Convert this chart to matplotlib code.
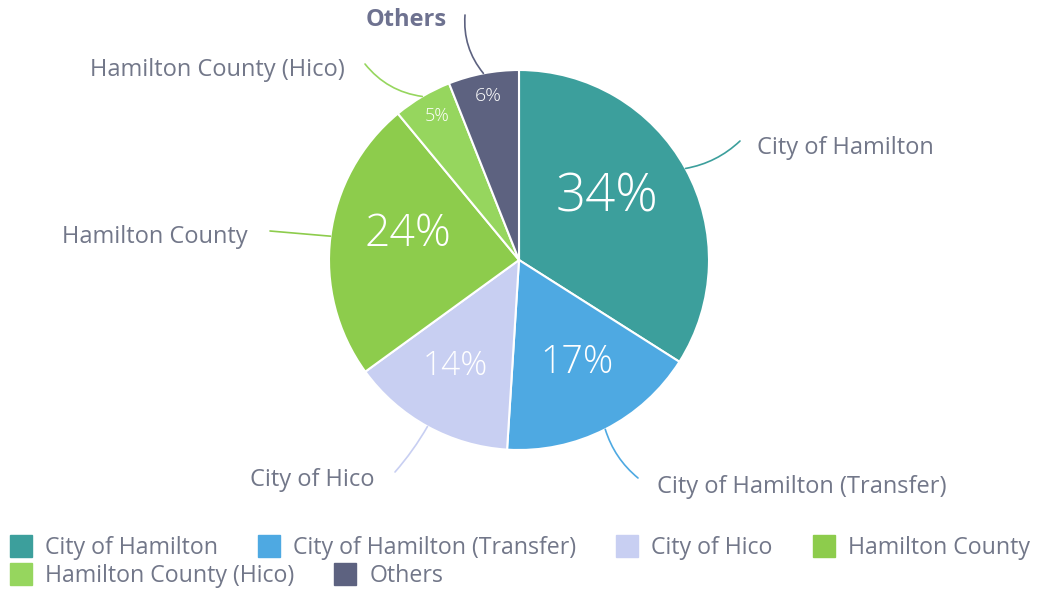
import numpy as np
import matplotlib.pyplot as plt
from matplotlib.patches import Rectangle

plt.rcParams['font.family'] = ['Open Sans', 'DejaVu Sans']

labels = ['City of Hamilton', 'City of Hamilton (Transfer)', 'City of Hico',
          'Hamilton County', 'Hamilton County (Hico)', 'Others']
shares = [34, 17, 14, 24, 5, 6]
colors = ['#3c9f9c', '#4ea9e2', '#c8cff2', '#8dcc4c', '#96d65e', '#5d6280']

# percent label size and baseline radius (fraction of pie radius)
pct_sizes = [38, 27, 24, 32, 13, 14]
pct_r = [0.53, 0.67, 0.69, 0.59, 0.85, 0.85]

# outer label anchor (pixels) and connector end point (pixels)
lab_xy = [(757, 148), (657, 487), (375, 480), (248, 237), (345, 70), (447, 20)]
con_end = [(740, 141), (638, 478), (395, 472), (270, 231), (365, 64), (465, 15)]
con_rad = [-0.15, -0.15, 0.05, 0.0, 0.2, 0.2]
text_col = '#727789'

W, H = 1039, 590
cx, cy, R = 519, 260, 190

fig = plt.figure(figsize=(W / 100, H / 100), dpi=100)
ax = fig.add_axes([(cx - R) / W, (H - cy - R) / H, 2 * R / W, 2 * R / H])

wedges, _ = ax.pie(shares, colors=colors, startangle=90, counterclock=False,
                   radius=1.0, wedgeprops=dict(edgecolor='white', linewidth=1.5))
ax.set_xlim(-1, 1)
ax.set_ylim(-1, 1)
ax.set_aspect('equal')
ax.axis('off')


def px2d(p):
    return ((p[0] - cx) / R, (cy - p[1]) / R)


for i, w in enumerate(wedges):
    mid = np.deg2rad((w.theta1 + w.theta2) / 2)
    ax.text(pct_r[i] * np.cos(mid), pct_r[i] * np.sin(mid), '%d%%' % shares[i],
            color='white', fontsize=pct_sizes[i], fontweight='light',
            ha='center', va='baseline')
    start = (1.0 * np.cos(mid), 1.0 * np.sin(mid))
    end = px2d(con_end[i])
    ax.annotate('', xy=start, xytext=end, annotation_clip=False,
                arrowprops=dict(arrowstyle='-', color=colors[i], lw=1.2,
                                shrinkA=0, shrinkB=0,
                                connectionstyle='arc3,rad=%.2f' % con_rad[i]))
    lx, ly = px2d(lab_xy[i])
    ha = 'left' if lab_xy[i][0] > cx else 'right'
    bold = labels[i] == 'Others'
    ax.text(lx, ly, labels[i], ha=ha, va='center', fontsize=17,
            color='#6e7290' if bold else text_col,
            fontweight='bold' if bold else 'normal', clip_on=False)

# flow legend at the bottom
fig.canvas.draw()
renderer = fig.canvas.get_renderer()
x, row_y = 10, [548, 576]
row = 0
sq = 22
for lab, col in zip(labels, colors):
    t = fig.text(0, 0, lab, fontsize=16.7, color=text_col, va='center')
    tw = t.get_window_extent(renderer).width
    if x + sq + 13 + tw > W - 2:
        row += 1
        x = 10
    y = row_y[row]
    fig.patches.append(Rectangle((x / W, (H - y + 2 - sq / 2) / H), sq / W, sq / H,
                                 transform=fig.transFigure, color=col))
    t.set_position(((x + sq + 13) / W, (H - y) / H))
    x += sq + 13 + tw + 40

fig.savefig('out.png', dpi=100)
